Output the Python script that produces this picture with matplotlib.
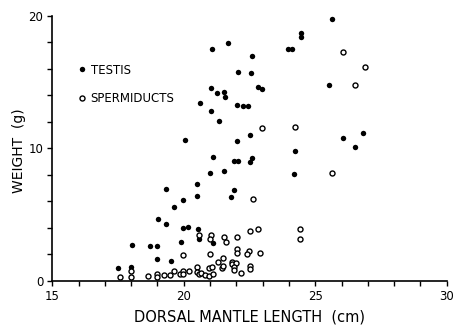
import numpy as np
import matplotlib
matplotlib.use('Agg')
import matplotlib.pyplot as plt

# dorsal mantle length (cm) and organ weight (g)
testis_length = [21.06, 21.67, 22.59, 22.05, 22.56, 22.84, 22.96, 21.05, 21.25, 21.55,
                 21.57, 20.63, 22.03, 22.26, 22.43, 21.03, 21.35, 20.03, 22.02, 22.53,
                 25.62, 24.46, 24.46, 23.96, 24.10, 25.52, 26.04, 26.83, 26.52, 24.22,
                 24.20, 21.11, 21.92, 22.07, 22.60, 22.53, 21.01, 21.54, 20.52, 19.32,
                 21.90, 19.98, 20.51, 21.79, 19.63, 19.02, 19.32, 19.99, 20.18, 20.53,
                 20.60, 21.11, 18.04, 18.71, 19.00, 19.88, 19.00, 19.50, 17.52, 18.01]
testis_weight = [17.50, 17.98, 16.99, 15.80, 15.71, 14.65, 14.46, 14.53, 14.15, 14.25,
                 13.90, 13.44, 13.27, 13.23, 13.19, 12.84, 12.06, 10.66, 10.53, 11.00,
                 19.74, 18.69, 18.43, 17.50, 17.50, 14.76, 10.78, 11.13, 10.10, 9.82,
                 8.04, 9.37, 9.06, 9.02, 9.28, 8.99, 8.12, 8.26, 7.34, 6.94,
                 6.84, 6.07, 6.38, 6.32, 5.60, 4.64, 4.28, 4.00, 4.04, 3.88,
                 3.13, 2.87, 2.73, 2.64, 2.64, 2.96, 1.65, 1.47, 0.96, 1.01]

sperm_length = [26.06, 26.88, 26.52, 22.98, 24.24, 25.65, 22.63, 22.52, 22.81, 24.41,
                24.41, 22.50, 22.91, 22.51, 22.51, 20.60, 21.02, 21.00, 21.52, 21.60,
                22.02, 21.01, 22.01, 22.01, 22.40, 19.99, 20.20, 20.50, 20.50, 20.58,
                20.66, 20.81, 20.96, 21.08, 20.97, 21.12, 21.29, 21.49, 21.44, 21.50,
                21.82, 21.82, 21.97, 21.92, 21.92, 22.17, 17.59, 18.00, 18.00, 18.64,
                18.97, 18.97, 19.26, 19.46, 19.63, 19.86, 19.98, 19.98]
sperm_weight = [17.25, 16.16, 14.76, 11.51, 11.59, 8.13, 6.17, 3.78, 3.90, 3.94,
                3.13, 2.24, 2.07, 1.11, 0.88, 3.47, 3.43, 3.13, 3.32, 2.95,
                3.34, 2.05, 2.38, 2.07, 2.05, 1.94, 0.73, 1.01, 0.70, 0.52,
                0.58, 0.43, 0.94, 1.06, 0.35, 0.51, 1.44, 1.75, 0.94, 1.11,
                1.44, 1.26, 1.36, 1.01, 0.81, 0.60, 0.26, 0.73, 0.28, 0.35,
                0.51, 0.26, 0.43, 0.42, 0.76, 0.51, 0.76, 0.49]

fig = plt.figure(figsize=(4.54, 3.25), dpi=100)
ax = fig.add_axes([0.115, 0.136, 0.869, 0.815])

ax.plot(testis_length, testis_weight, 'o', color='black', markersize=3.9,
        markeredgewidth=0, label='TESTIS', clip_on=False)
ax.plot(sperm_length, sperm_weight, 'o', markerfacecolor='white',
        markeredgecolor='black', markersize=3.6, markeredgewidth=1.0,
        label='SPERMIDUCTS', clip_on=False)

ax.set_xlim(15, 30)
ax.set_ylim(0, 20)
ax.set_xticks([15, 20, 25, 30])
ax.set_xticks(np.arange(15, 31, 1), minor=True)
ax.set_yticks([0, 10, 20])
ax.set_yticks(np.arange(0, 21, 2), minor=True)

for side in ['top', 'right']:
    ax.spines[side].set_visible(False)
for side in ['left', 'bottom']:
    ax.spines[side].set_linewidth(1.2)

ax.tick_params(which='both', direction='out', width=1.0, length=3.5,
               labelsize=8.5, pad=3)

ax.set_xlabel('DORSAL MANTLE LENGTH  (cm)', fontsize=10.5)
ax.set_ylabel('WEIGHT  (g)', fontsize=10)
ax.xaxis.set_label_coords(0.5, -0.11)
ax.yaxis.set_label_coords(-0.066, 0.49)

ax.legend(loc='upper left', bbox_to_anchor=(0.06, 0.82), frameon=False,
          fontsize=8.5, handletextpad=0.25, labelspacing=1.3,
          handlelength=1.0, borderpad=0, borderaxespad=0)

fig.savefig('out.png', dpi=100)
